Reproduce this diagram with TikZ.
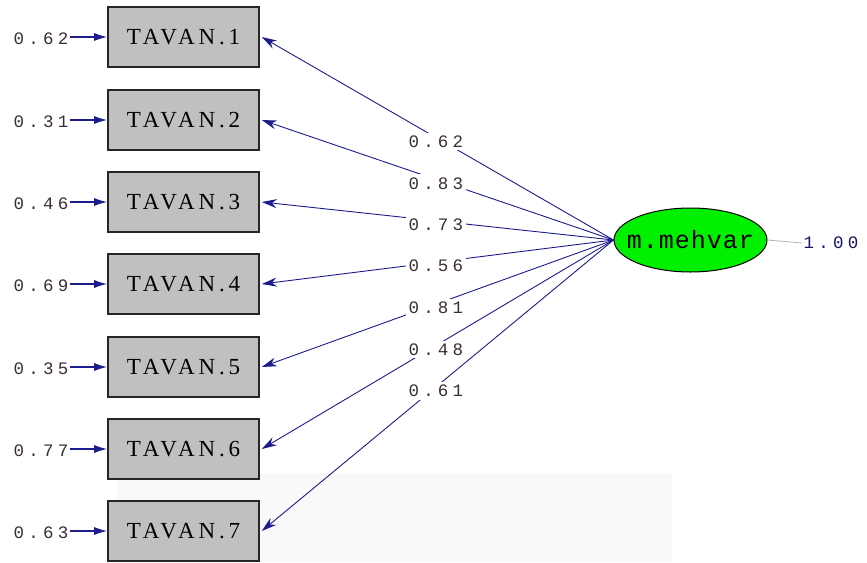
\documentclass[tikz,border=0pt]{standalone}
\usepackage{fontspec}
\usetikzlibrary{arrows.meta,shapes.geometric}
\newfontfamily\lblfont[LetterSpace=24]{Liberation Mono}
\newfontfamily\boxfont[LetterSpace=17]{Liberation Serif}
\newfontfamily\latfont[LetterSpace=4]{Liberation Mono}
\definecolor{navy}{RGB}{28,28,140}
\definecolor{boxgray}{RGB}{192,192,192}
\definecolor{lblcol}{RGB}{60,45,55}
\definecolor{latgreen}{RGB}{0,240,0}
\tikzset{
  obsbox/.style={draw=black!85, line width=1.6pt, fill=boxgray, minimum width=151pt, minimum height=60pt, inner sep=0pt, font=\boxfont\fontsize{23}{23}\selectfont},
  latent/.style={ellipse, draw=black, line width=1pt, fill=latgreen, minimum width=153pt, minimum height=64pt, inner xsep=-17pt, inner ysep=0pt, font=\latfont\fontsize{25}{25}\selectfont},
  lbl/.style={font=\lblfont\fontsize{17.5}{17.5}\selectfont, text=lblcol, inner sep=1.5pt},
  loadlbl/.style={lbl, fill=white, inner sep=3pt},
  load/.style={draw=navy, line width=0.9pt, -{Stealth[length=15pt, width=9pt]}},
  err/.style={draw=navy, line width=1.3pt, -{Latex[length=13pt, width=8pt]}},
}
\begin{document}
\begin{tikzpicture}[x=1pt,y=-1pt]
\useasboundingbox (0,0) rectangle (867,562);
\fill[black!2.5] (117,473) rectangle (672,562);
\foreach \i/\y/\e in {1/37/0.62,2/120/0.31,3/202/0.46,4/284/0.69,5/367/0.35,6/449/0.77,7/531/0.63}{
  \node[obsbox] (t\i) at (183.5,\y) {TAVAN.\i};
  \node[lbl, anchor=east] (e\i) at (70,\y+2) {\e};
  \draw[err] (e\i.east |- t\i.west) -- (t\i.west);
}
\node[latent] (m) at (690.5,240) {m.mehvar};
\node[lbl, anchor=west, text=navy!70!black] (v) at (802,243) {1.00};
\draw[black!30, line width=0.8pt] (m.east) -- (v.west);
\foreach \i/\l in {1/0.62,2/0.83,3/0.73,4/0.56,5/0.81,6/0.48,7/0.61}{
  \draw[load] (m.west) -- node[loadlbl, pos=0.505, yshift=-4pt] {\l} ([xshift=2pt]t\i.east);
}
\end{tikzpicture}
\end{document}
